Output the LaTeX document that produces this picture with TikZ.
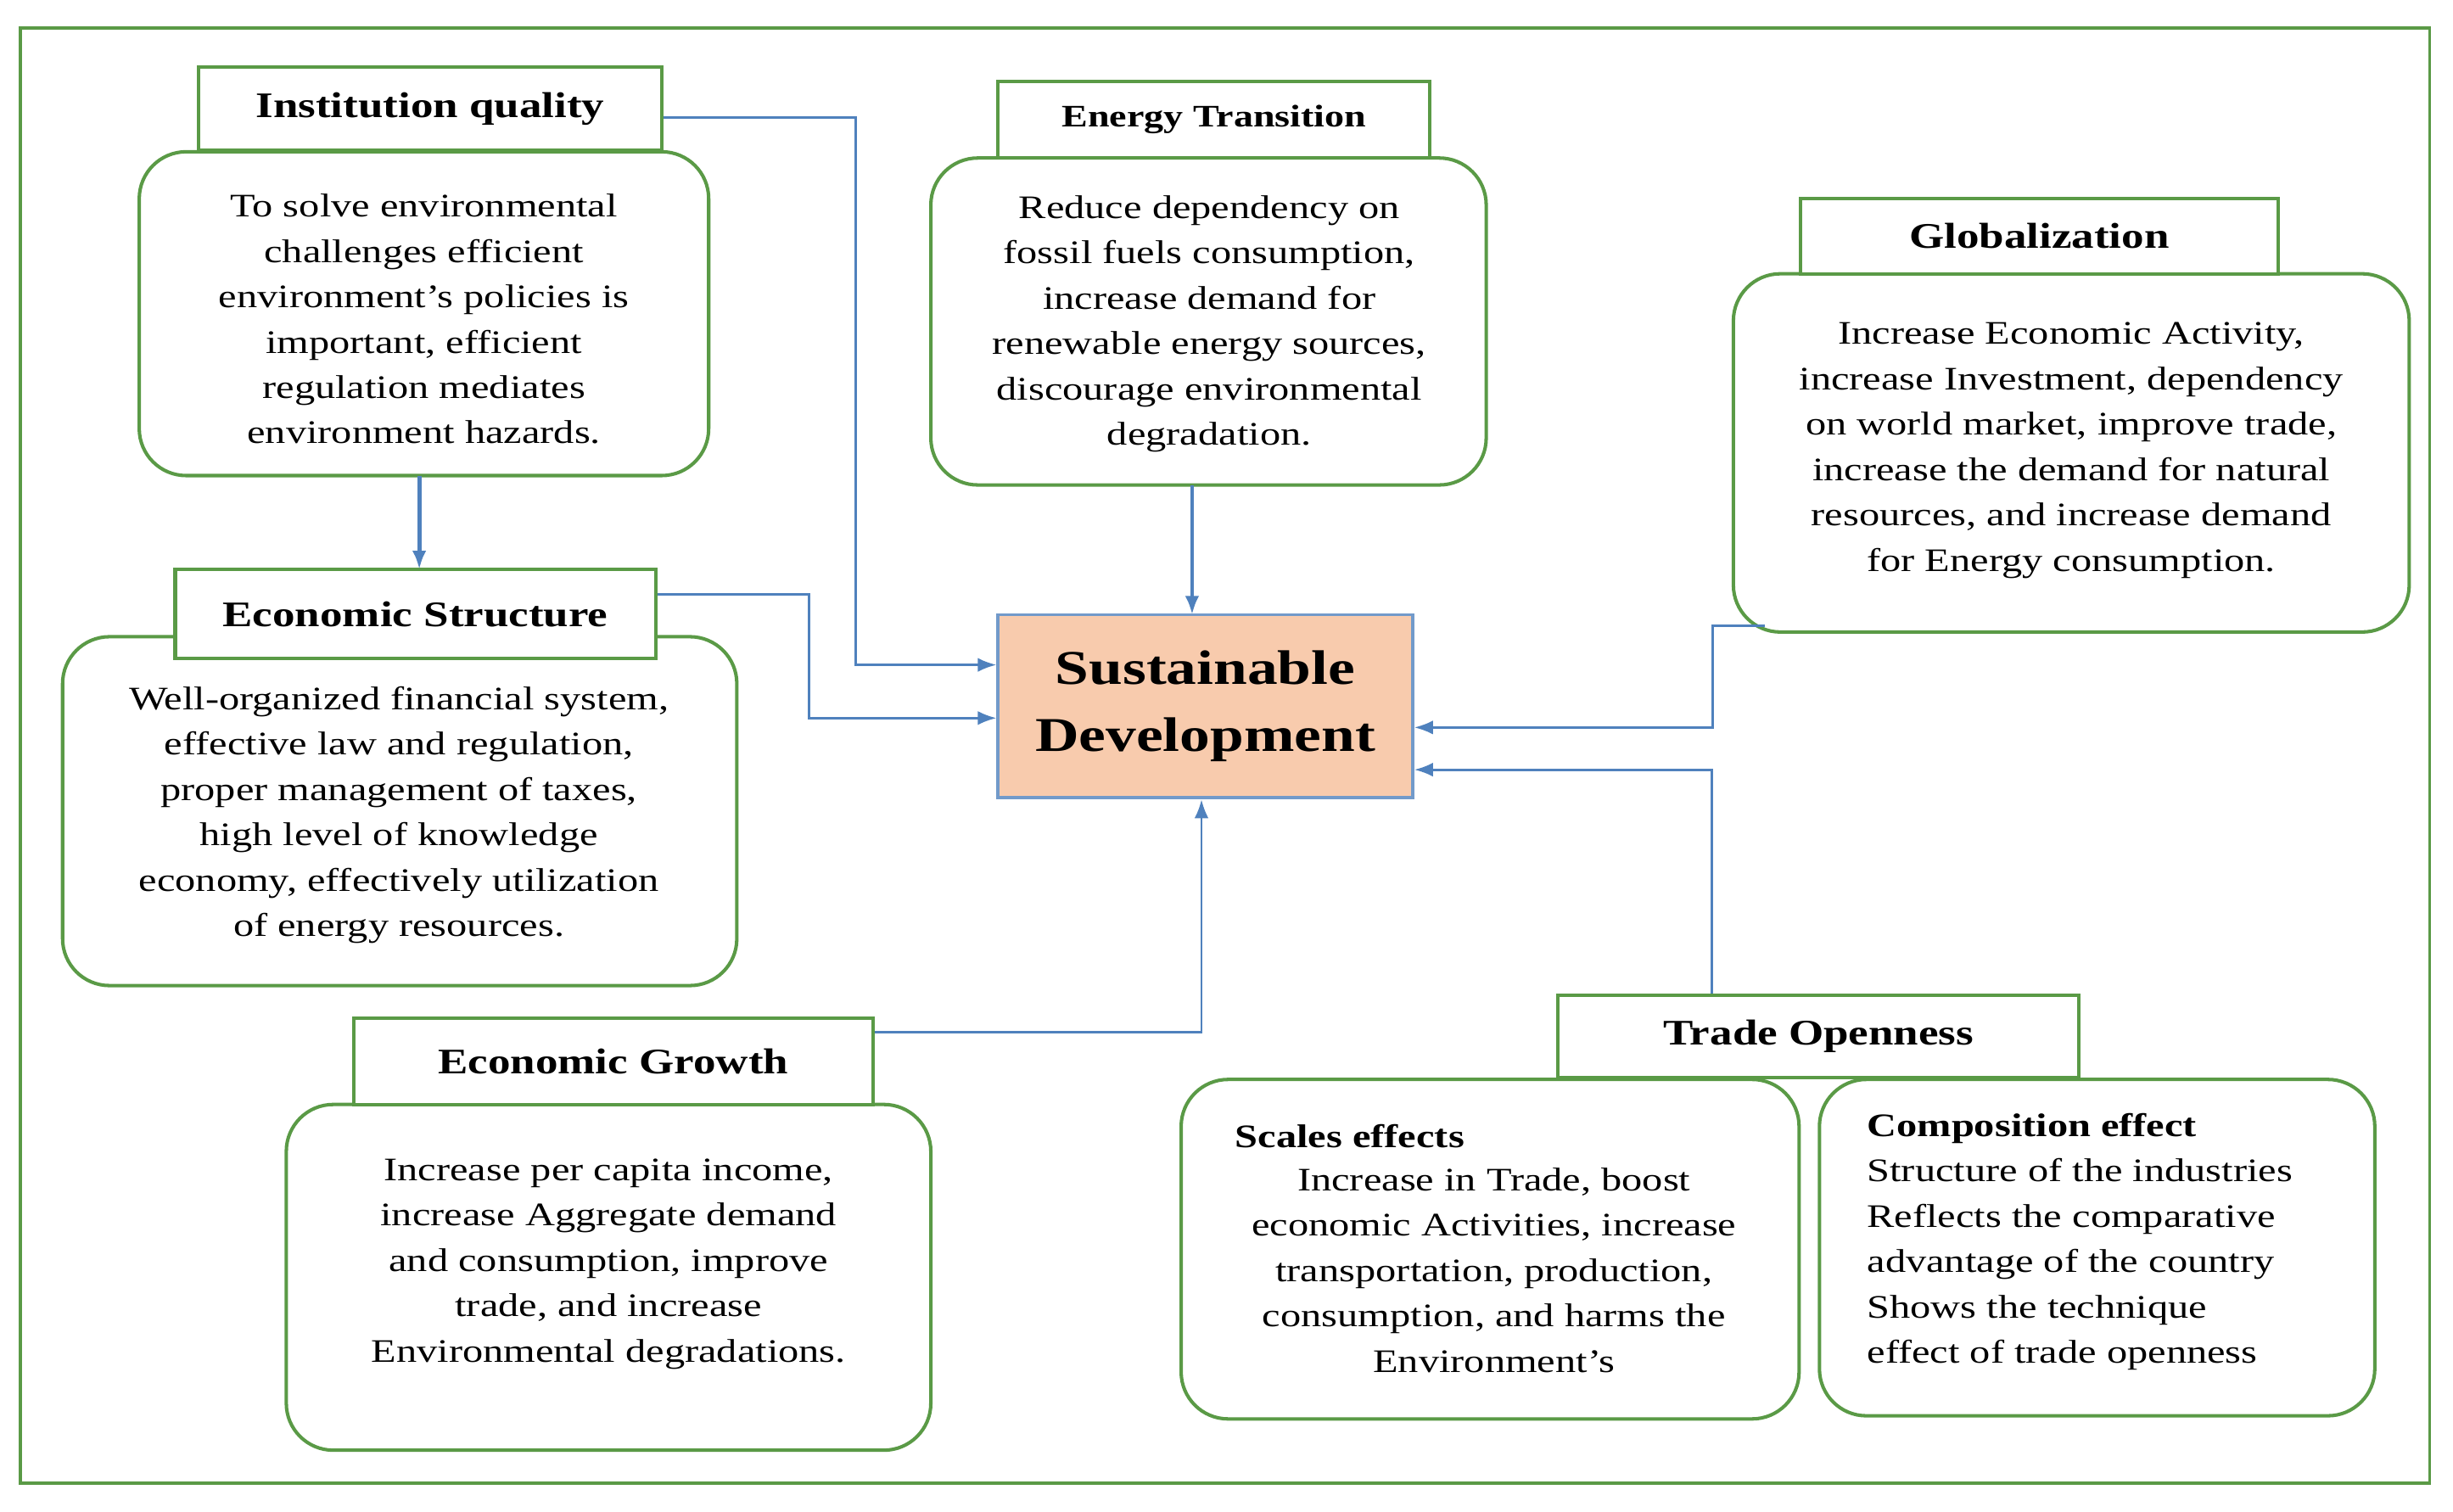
\documentclass[tikz,border=0pt]{standalone}
\usepackage{fontspec}
\setmainfont{Liberation Serif}[FakeStretch=1.25]
\definecolor{gr}{HTML}{5A9A46}
\definecolor{bl}{HTML}{4F81BD}
\definecolor{sal}{HTML}{F8CBAD}
\usetikzlibrary{arrows.meta}
\begin{document}
\begin{tikzpicture}[x=1pt,y=-1pt,
 body/.style={draw=gr,line width=2.2pt,rounded corners=30pt,fill=white},
 ttl/.style={draw=gr,line width=2.2pt,fill=white},
 txt/.style={align=center,font=\fontsize{21}{29}\selectfont},
 tt/.style={font=\fontsize{23}{28}\selectfont\bfseries},
 arr/.style={draw=bl,line width=1.6pt,-{Latex[length=12pt,width=9pt]}}]
\useasboundingbox (0,0) rectangle (1568,966);
\draw[draw=gr,line width=2pt] (13,18) rectangle (1553,948);
% bodies
\draw[body] (89,97) rectangle (453,304);
\draw[body] (595,101) rectangle (950,310);
\draw[body] (1108,175) rectangle (1540,404);
\draw[body] (40,407) rectangle (471,630);
\draw[body] (183,706) rectangle (595,927);
\draw[body] (755,690) rectangle (1150,907);
\draw[body] (1163,690) rectangle (1518,905);
% titles
\node[ttl,minimum width=296pt,minimum height=53pt,tt] (iq) at (275,69.5) {Institution quality};
\node[ttl,minimum width=276pt,minimum height=49pt,tt,font=\fontsize{20}{24}\selectfont\bfseries] (et) at (776,76.5) {Energy Transition};
\node[ttl,minimum width=305pt,minimum height=48pt,tt] (gl) at (1303.5,151) {Globalization};
\node[ttl,minimum width=307pt,minimum height=57pt,tt] (es) at (265.5,392.5) {Economic Structure};
\node[ttl,minimum width=332pt,minimum height=55pt,tt] (eg) at (392,678.5) {Economic Growth};
\node[ttl,minimum width=333pt,minimum height=53pt,tt] (to) at (1162.5,662.5) {Trade Openness};
\node[draw=bl!80,line width=2pt,fill=sal,minimum width=265pt,minimum height=117pt,align=center,font=\fontsize{31}{43}\selectfont\bfseries] (sd) at (770.5,451.5) {Sustainable\\Development};
% texts
\node[txt] (iqt) at (271,204) {To solve environmental\\challenges efficient\\environment’s policies is\\important, efficient\\regulation mediates\\environment hazards.};
\node[txt] (ett) at (773,207) {Reduce dependency on\\fossil fuels consumption,\\increase demand for\\renewable energy sources,\\discourage environmental\\degradation.};
\node[txt] (glt) at (1324,288) {Increase Economic Activity,\\increase Investment, dependency\\on world market, improve trade,\\increase the demand for natural\\resources, and increase demand\\for Energy consumption.};
\node[txt] (est) at (255,521) {Well-organized financial system,\\effective law and regulation,\\proper management of taxes,\\high level of knowledge\\economy, effectively utilization\\of energy resources.};
\node[txt] (egt) at (389,808) {Increase per capita income,\\increase Aggregate demand\\and consumption, improve\\trade, and increase\\Environmental degradations.};
\node[anchor=west,font=\fontsize{21}{29}\selectfont\bfseries] (sch) at (786,726) {Scales effects};
\node[txt] (sct) at (955,812) {Increase in Trade, boost\\economic Activities, increase\\transportation, production,\\consumption, and harms the\\Environment’s};
\node[anchor=north west,align=left,font=\fontsize{21}{29}\selectfont] (cot) at (1190,708) {\textbf{Composition effect}\\Structure of the industries\\Reflects the comparative\\advantage of the country\\Shows the technique\\effect of trade openness};
% arrows
\coordinate (iqb) at (268,304);
\coordinate (etb) at (762,310);
\coordinate (glb) at (1128,400);
\draw[arr,line width=2.6pt] (iqb) -- (268,364);
\draw[arr,line width=2.6pt] (etb) -- (762,393);
\draw[arr] (iq.east |- 0,75) -- (547,75) -- (547,425) -- (sd.west |- 0,425);
\draw[arr] (es.east |- 0,380) -- (517,380) -- (517,459) -- (sd.west |- 0,459);
\draw[arr] (glb) -- (1095,400) -- (1095,465) -- (sd.east |- 0,465);
\draw[arr] (to.north -| 1094,0) -- (1094,492) -- (sd.east |- 0,492);
\draw[arr] (eg.east |- 0,660) -- (768,660) -- (sd.south -| 768,0);
\end{tikzpicture}
\end{document}
